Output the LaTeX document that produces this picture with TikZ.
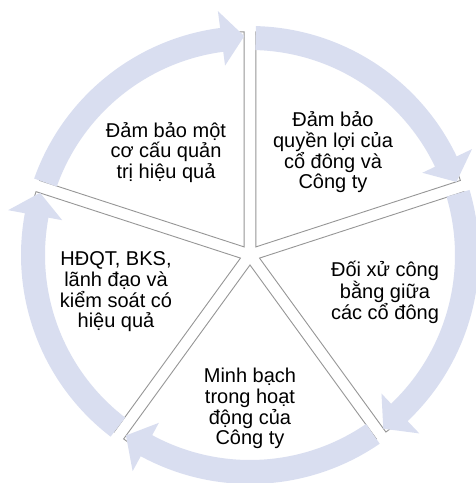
\documentclass[tikz,border=0pt]{standalone}
\usepackage{fontspec}
\setmainfont{Liberation Sans}
\definecolor{band}{RGB}{217,222,240}
\definecolor{edge}{RGB}{150,150,150}
\begin{document}
\begin{tikzpicture}[x=1pt,y=1pt,
  piece/.style={fill=white,draw=edge,line width=0.9pt},
  arrowband/.style={fill=band,draw=none},
  lbl/.style={align=center,font=\fontsize{20}{20.7}\selectfont,inner sep=0pt}]
\useasboundingbox (0,0) rectangle (476,483);
\begin{scope}[shift={(250,228)}]
  % pie pieces
  \foreach \s/\e/\m in {90/18/54, 18/-54/-18, -54/-126/-90, 234/162/198, 162/90/126}{
    \path[piece] (\m:10) -- ++(\s:215) arc[start angle=\s, end angle=\e, radius=215] -- cycle;
  }
  % circular arrows
  \foreach \s/\e in {90/18, 18/-54, -54/-126, 234/162, 162/90}{
    \pgfmathsetmacro{\aone}{\s-1.5}
    \pgfmathsetmacro{\atwo}{\e+1.5}
    \pgfmathsetmacro{\athree}{\e+7.5}
    \path[arrowband] (\aone:229) arc[start angle=\aone, end angle=\athree, radius=229]
      -- (\athree:246) -- (\atwo:219) -- (\athree:191) -- (\athree:205)
      arc[start angle=\athree, end angle=\aone, radius=205] -- cycle;
  }
\end{scope}
\node[lbl] (t1) at (166,330.5) {Đảm bảo một\\cơ cấu quản\\trị hiệu quả};
\node[lbl] (t2) at (333,330.5) {Đảm bảo\\quyền lợi của\\cổ đông và\\Công ty};
\node[lbl] (t3) at (385,191) {Đối xử công\\bằng giữa\\các cổ đông};
\node[lbl] (t4) at (250,74.5) {Minh bạch\\trong hoạt\\động của\\Công ty};
\node[lbl] (t5) at (116,191) {HĐQT, BKS,\\lãnh đạo và\\kiểm soát có\\hiệu quả};
\end{tikzpicture}
\end{document}
